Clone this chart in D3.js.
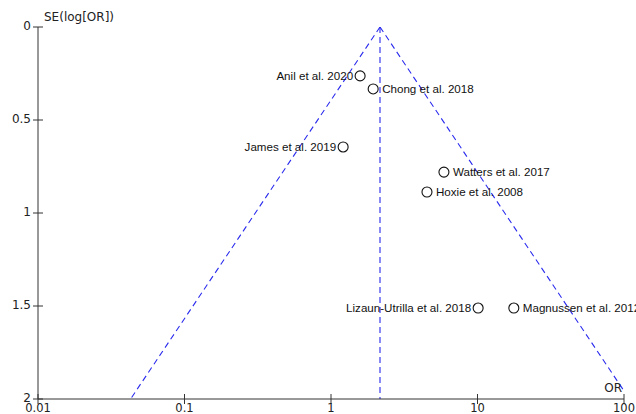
<!DOCTYPE html>
<html><head><meta charset="utf-8">
<script src="https://cdn.jsdelivr.net/npm/d3@7"></script>
<style>body{margin:0;background:#fff}svg{display:block}</style>
</head><body>
<script>
const studies = ["Anil et al. 2020","Chong et al. 2018","James et al. 2019","Watters et al. 2017","Hoxie et al. 2008","Lizaun-Utrilla et al. 2018","Magnussen et al. 2012"];
const orValues = [1.58, 1.94, 1.21, 5.9, 4.52, 10.1, 17.7];
const seValues = [0.263, 0.333, 0.645, 0.78, 0.887, 1.511, 1.511];
const labelSide = ["left","right","left","right","right","left","right"];
const pooledOR = 2.16;
const xTicks = [0.01, 0.1, 1, 10, 100];
const yTicks = [0, 0.5, 1, 1.5, 2];

const W = 636, H = 414;
const svg = d3.select("body").append("svg").attr("width", W).attr("height", H);
const x = d3.scaleLog().domain([0.01, 100]).range([38, 624]);
const y = d3.scaleLinear().domain([0, 2]).range([27, 399]);

const axisColor = "#333";
const tickFont = "DejaVu Sans, Verdana, sans-serif";

// funnel
svg.append("defs").append("clipPath").attr("id","c")
  .append("rect").attr("x",38).attr("y",27).attr("width",586).attr("height",372);
const g = svg.append("g").attr("clip-path","url(#c)");
const lnP = Math.log(pooledOR);
const seMax = 2;
const left = [[pooledOR, 0], [Math.exp(lnP - 1.96*seMax), seMax]];
const right = [[pooledOR, 0], [Math.exp(lnP + 1.96*seMax), seMax]];
const line = d3.line().x(d => x(d[0])).y(d => y(d[1]));
[left, right, [[pooledOR,0],[pooledOR,seMax]]].forEach(p => {
  g.append("path").attr("d", line(p)).attr("fill","none")
   .attr("stroke","#2a2aee").attr("stroke-width",1.1).attr("stroke-dasharray","6,4");
});

// axes
const yAxis = svg.append("g");
yAxis.append("line").attr("x1",38).attr("x2",38).attr("y1",y(0)).attr("y2",y(2)).attr("stroke",axisColor);
yTicks.forEach(t => {
  yAxis.append("line").attr("x1",33).attr("x2",43).attr("y1",y(t)).attr("y2",y(t)).attr("stroke",axisColor);
  yAxis.append("text").attr("x",31).attr("y",y(t)).attr("dy","0.25em").attr("text-anchor","end")
   .attr("font-family",tickFont).attr("font-size",12).attr("fill","#222").text(t);
});
const xAxis = svg.append("g");
xAxis.append("line").attr("x1",x(0.01)).attr("x2",x(100)).attr("y1",399).attr("y2",399).attr("stroke",axisColor);
xTicks.forEach(t => {
  xAxis.append("line").attr("x1",x(t)).attr("x2",x(t)).attr("y1",394).attr("y2",404).attr("stroke",axisColor);
  xAxis.append("text").attr("x",x(t)).attr("y",411.5).attr("text-anchor","middle")
   .attr("font-family",tickFont).attr("font-size",11.5).attr("fill","#222").text(t);
});
svg.append("text").attr("x",44).attr("y",21).attr("font-family",tickFont).attr("font-size",12).attr("fill","#222").text("SE(log[OR])");
svg.append("text").attr("x",622).attr("y",392).attr("text-anchor","end").attr("font-family",tickFont).attr("font-size",12).attr("fill","#222").text("OR");

// points
studies.forEach((s, i) => {
  const cx = x(orValues[i]), cy = y(seValues[i]);
  svg.append("circle").attr("cx",cx).attr("cy",cy).attr("r",5).attr("fill","none").attr("stroke","#111").attr("stroke-width",1.1);
  const isLeft = labelSide[i] === "left";
  svg.append("text").attr("x", isLeft ? cx-7 : cx+9).attr("y",cy).attr("dy","0.35em")
    .attr("text-anchor", isLeft ? "end" : "start")
    .attr("font-family","Liberation Sans, Arial, sans-serif").attr("font-size",11.6).attr("fill","#111").text(s);
});
</script>
</body></html>
